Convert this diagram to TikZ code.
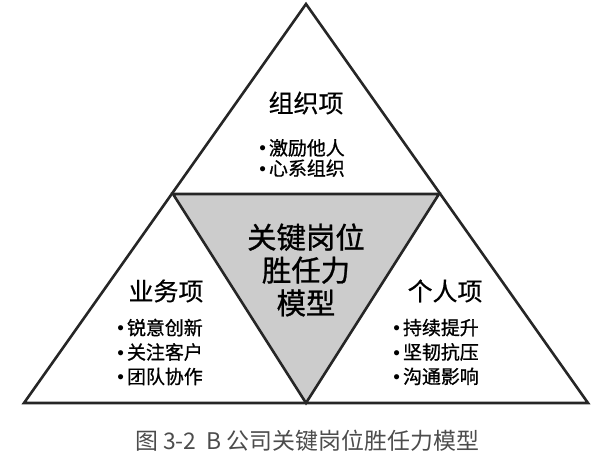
\documentclass[tikz,border=0pt]{standalone}
\usepackage{fontspec}
\setmainfont{Noto Sans CJK SC}
\newfontfamily\heavy{Noto Sans CJK SC}[FakeBold=0.9]
\newfontfamily\semi{Noto Sans CJK SC}[FakeBold=0.6]
\newfontfamily\dotfont{Liberation Sans}
\newcommand{\pt}{{\dotfont •}\,}
\usetikzlibrary{positioning}

\begin{document}
\begin{tikzpicture}[
  x=1bp, y=-1bp,
  edge/.style={line width=2.6bp, draw=black!85, line join=miter},
  core/.style={edge, fill=black!20},
  head/.style={font=\semi\fontsize{25}{30}\selectfont, inner sep=0pt},
  items/.style={font=\heavy\fontsize{19}{24.5}\selectfont, align=left, inner sep=0pt},
  hub/.style={font=\heavy\fontsize{29.5}{33}\selectfont, align=center, inner sep=0pt},
  caption/.style={font=\fontsize{23}{27}\selectfont, text=black!70, inner sep=0pt}
]
\useasboundingbox (0,0) rectangle (600,464);

% outer triangle and its side points
\coordinate (top)   at (306,4);
\coordinate (left)  at (24,403);
\coordinate (right) at (588,403);
\coordinate (midL)  at (173,194);
\coordinate (midR)  at (439,194);
\coordinate (midB)  at (306,403);

\draw[edge] (top) -- (left) -- (right) -- cycle;
\draw[core] (midL) -- (midR) -- (midB) -- cycle;

% upper part
\node[head]  (org)     at (306,103) {组织项};
\node[items, font=\heavy\fontsize{19}{20.5}\selectfont] (orgList) at (302,158)
  {\pt 激励他人\\\pt 心系组织};

% left part
\node[head]  (biz)     at (166,291) {业务项};
\node[items] (bizList) at (160,352) {\pt 锐意创新\\\pt 关注客户\\\pt 团队协作};

% right part
\node[head]  (own)     at (445,291) {个人项};
\node[items] (ownList) at (436,352) {\pt 持续提升\\\pt 坚韧抗压\\\pt 沟通影响};

% centre
\node[hub] (model) at (306,270) {关键岗位\\胜任力\\模型};

\node[caption] (title) at (307,441) {图 3-2\ \ B 公司关键岗位胜任力模型};
\end{tikzpicture}
\end{document}
